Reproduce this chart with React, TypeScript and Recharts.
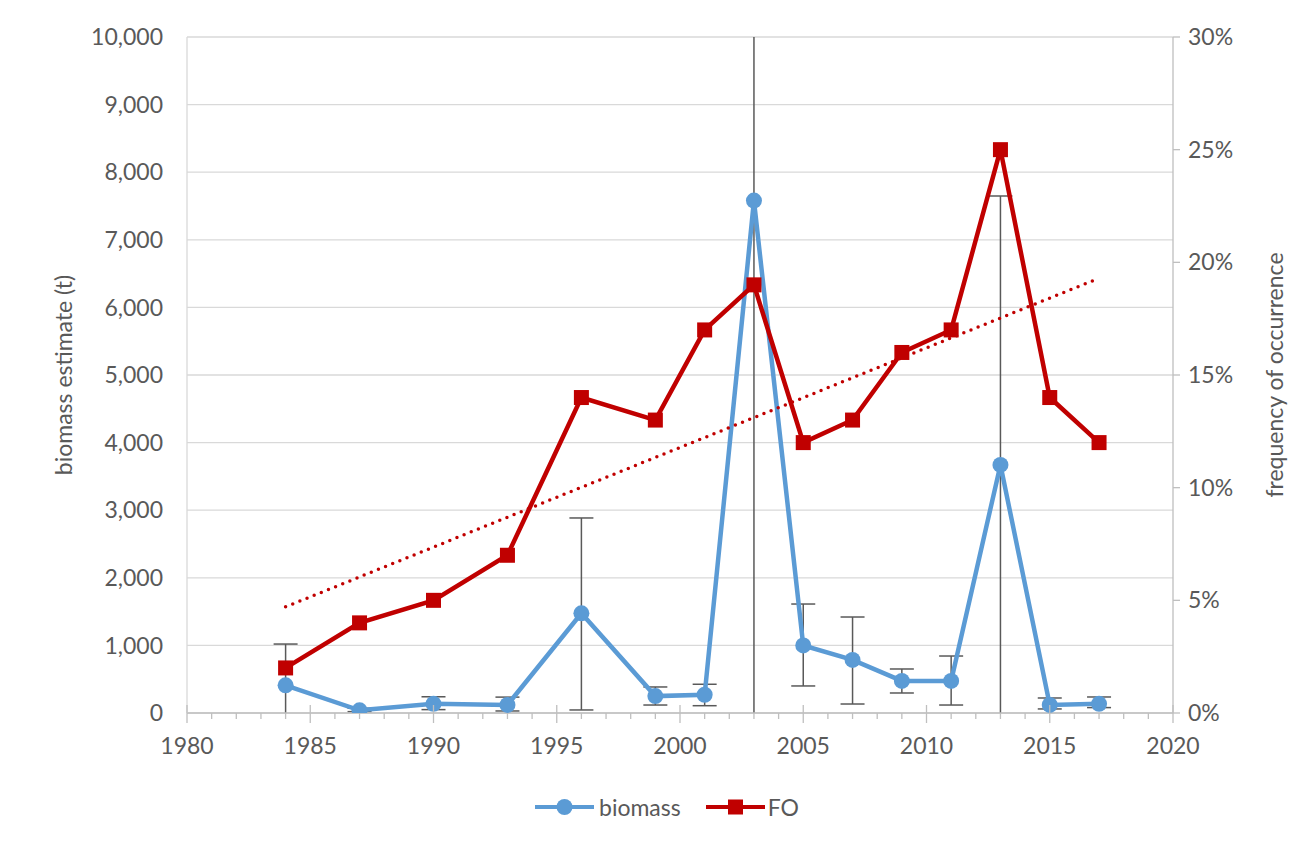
import React from "react";
import { LineChart, Line, XAxis, YAxis, CartesianGrid, ErrorBar } from "recharts";

const years = [1984, 1987, 1990, 1993, 1996, 1999, 2001, 2003, 2005, 2007, 2009, 2011, 2013, 2015, 2017];
const biomass = [410, 40, 135, 120, 1475, 250, 270, 7580, 1000, 785, 475, 475, 3670, 120, 135];
const biomassLow = [-150, 20, 50, 30, 45, 118, 108, -600, 400, 133, 296, 118, -200, 60, 80];
const biomassHigh = [1020, 70, 240, 235, 2885, 385, 425, 12000, 1612, 1420, 651, 843, 7648, 222, 237];
const fo = [2, 4, 5, 7, 14, 13, 17, 19, 12, 13, 16, 17, 25, 14, 12];

const leftTicks = [0, 1000, 2000, 3000, 4000, 5000, 6000, 7000, 8000, 9000, 10000];
const rightTicks = [0, 5, 10, 15, 20, 25, 30];
const yearTicks = Array.from({ length: 41 }, (_, i) => 1980 + i);

// linear trendline of FO (least squares, like Excel)
const n = years.length;
const mx = years.reduce((s, v) => s + v, 0) / n;
const my = fo.reduce((s, v) => s + v, 0) / n;
const slope =
  years.reduce((s, v, i) => s + (v - mx) * (fo[i] - my), 0) /
  years.reduce((s, v) => s + (v - mx) * (v - mx), 0);
const intercept = my - slope * mx;

const data = years.map((year, i) => ({
  year,
  biomass: biomass[i],
  biomassErr: [biomass[i] - biomassLow[i], biomassHigh[i] - biomass[i]],
  fo: fo[i],
  trend: intercept + slope * year,
}));

const FONT = "Lato, 'Open Sans', sans-serif";
const TEXT = "#595959";
const BLUE = "#5b9bd5";
const RED = "#c00000";

// plot box inside the chart svg
const PLOT = { left: 179, top: 30, width: 986, height: 676 };

const XTick = (props: any) => {
  const { x, y, payload } = props;
  const v = payload.value;
  const major = v % 5 === 0;
  return (
    <g>
      <line
        x1={x}
        x2={x}
        y1={major ? y - 8 : y}
        y2={major ? y + 10 : y + 6}
        stroke="#bfbfbf"
        strokeWidth={1.3}
      />
      {major && (
        <text x={x} y={y + 41} textAnchor="middle" fill={TEXT} fontSize={23} fontFamily={FONT}>
          {v}
        </text>
      )}
    </g>
  );
};

const SquareDot = (props: any) => {
  const { cx, cy, index } = props;
  if (cx == null || cy == null) return null;
  return <rect key={`sq-${index}`} x={cx - 7.5} y={cy - 7.5} width={15} height={15} fill={RED} />;
};

export default function App() {
  return (
    <div
      style={{
        position: "relative",
        width: 1290,
        height: 832,
        borderTop: "2px solid #d9d9d9",
        borderLeft: "2px solid #d9d9d9",
        boxSizing: "border-box",
        margin: "-3px 0 0 -2px",
        background: "#fff",
      }}
    >
      <style>{`.recharts-errorBars { clip-path: url(#plotClip); }`}</style>
      <svg width={0} height={0} style={{ position: "absolute" }}>
        <defs>
          <clipPath id="plotClip" clipPathUnits="userSpaceOnUse">
            <rect x={PLOT.left} y={PLOT.top} width={PLOT.width} height={PLOT.height} />
          </clipPath>
        </defs>
      </svg>
      <LineChart
        width={1286}
        height={828}
        data={data}
        margin={{ top: 30, right: 21, left: 59, bottom: 82 }}
      >
        <CartesianGrid yAxisId="left" horizontal vertical={false} stroke="#d9d9d9" strokeWidth={1.3} />
        <XAxis
          dataKey="year"
          type="number"
          domain={[1980, 2020]}
          ticks={yearTicks}
          interval={0}
          height={40}
          tickSize={0}
          tickMargin={0}
          tickLine={false}
          axisLine={{ stroke: "#bfbfbf", strokeWidth: 1.3 }}
          tick={(p: any) => <XTick {...p} />}
        />
        <YAxis
          yAxisId="left"
          domain={[0, 10000]}
          ticks={leftTicks}
          allowDataOverflow
          width={120}
          tickLine={false}
          tickSize={6}
          tickMargin={18}
          axisLine={{ stroke: "#d9d9d9", strokeWidth: 1.3 }}
          tick={{ fill: TEXT, fontSize: 23, fontFamily: FONT }}
          tickFormatter={(v: number) => v.toLocaleString("en-US")}
          label={{
            value: "biomass estimate (t)",
            angle: -90,
            position: "insideLeft",
            offset: 0,
            dx: -3,
            style: { textAnchor: "middle", fill: TEXT, fontSize: 23, fontFamily: FONT },
          }}
        />
        <YAxis
          yAxisId="right"
          orientation="right"
          domain={[0, 30]}
          ticks={rightTicks}
          allowDataOverflow
          width={100}
          tickSize={7}
          tickMargin={8}
          tickLine={{ stroke: "#bfbfbf", strokeWidth: 1.3 }}
          axisLine={{ stroke: "#bfbfbf", strokeWidth: 1.3 }}
          tick={{ fill: TEXT, fontSize: 23, fontFamily: FONT, textAnchor: "start" }}
          tickFormatter={(v: number) => `${v}%`}
          label={{
            value: "frequency of occurrence",
            angle: -90,
            position: "insideRight",
            offset: 0,
            dx: 2,
            style: { textAnchor: "middle", fill: TEXT, fontSize: 23, fontFamily: FONT },
          }}
        />
        <Line
          yAxisId="left"
          dataKey="biomass"
          stroke={BLUE}
          strokeWidth={4.5}
          dot={{ r: 8, fill: BLUE, stroke: "none" }}
          activeDot={false}
          isAnimationActive={false}
        >
          <ErrorBar dataKey="biomassErr" width={12} stroke="#595959" strokeWidth={1.5} direction="y" />
        </Line>
        <Line
          yAxisId="right"
          dataKey="fo"
          stroke={RED}
          strokeWidth={4.5}
          dot={(p: any) => <SquareDot {...p} />}
          activeDot={false}
          isAnimationActive={false}
        />
        <Line
          yAxisId="right"
          dataKey="trend"
          stroke={RED}
          strokeWidth={3.5}
          strokeDasharray="0 7.7"
          strokeLinecap="round"
          dot={false}
          activeDot={false}
          isAnimationActive={false}
        />
      </LineChart>
      <div
        style={{
          position: "absolute",
          left: 527,
          top: 787,
          height: 26,
          display: "flex",
          alignItems: "center",
          fontFamily: FONT,
          fontSize: 23,
          color: TEXT,
        }}
      >
        <svg width={59} height={20}>
          <line x1={0} x2={59} y1={10} y2={10} stroke={BLUE} strokeWidth={4} />
          <circle cx={29.5} cy={10} r={8} fill={BLUE} />
        </svg>
        <span style={{ marginLeft: 5, marginRight: 25 }}>biomass</span>
        <svg width={59} height={20}>
          <line x1={0} x2={59} y1={10} y2={10} stroke={RED} strokeWidth={4} />
          <rect x={22} y={2.5} width={15} height={15} fill={RED} />
        </svg>
        <span style={{ marginLeft: 3 }}>FO</span>
      </div>
    </div>
  );
}
